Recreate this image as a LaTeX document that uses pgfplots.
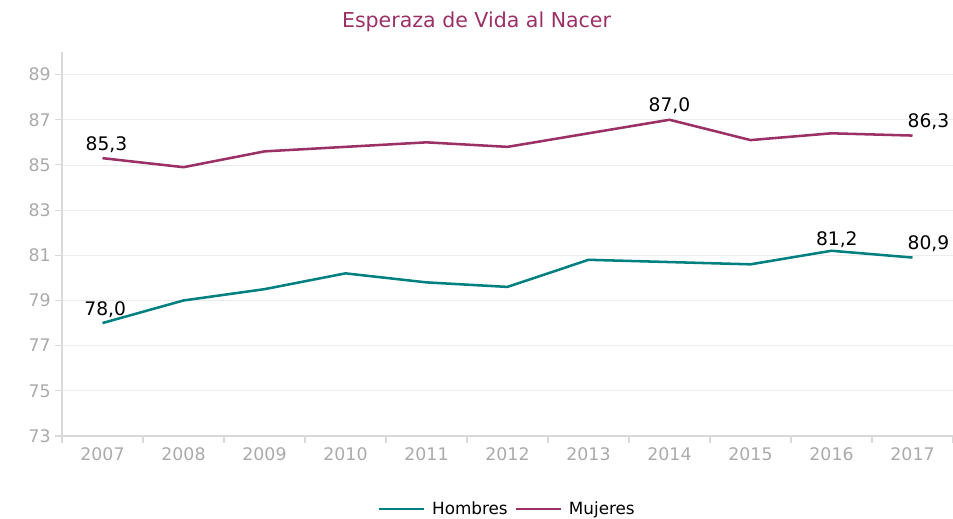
\documentclass[border=0pt]{standalone}
\usepackage{pgfplots}
\pgfplotsset{compat=1.18}
\usepackage{fontspec}
\setmainfont{DejaVu Sans}
\definecolor{hombres}{RGB}{0,128,128}
\definecolor{mujeres}{RGB}{155,48,103}
\definecolor{axisgray}{RGB}{217,217,217}
\definecolor{ticktext}{RGB}{170,170,170}
\definecolor{gridgray}{RGB}{236,236,236}

\begin{document}
\begin{tikzpicture}
\begin{axis}[name=ax, scale only axis, width=668.25pt, height=288pt,
  xmin=-0.5, xmax=10.5, ymin=73, ymax=90,
  axis x line*=bottom, axis y line*=left,
  axis line style={axisgray, line width=1pt, -},
  ytick={73,75,...,89},
  xtick={-0.5,0.5,...,10.5}, x tick label as interval,
  xticklabels={2007,2008,2009,2010,2011,2012,2013,2014,2015,2016,2017},
  tick align=outside, major tick length=5pt,
  tick style={axisgray, line width=0.8pt},
  ymajorgrids, grid style={gridgray, line width=0.6pt},
  tick label style={ticktext, font=\fontsize{13}{15}\selectfont},
  /pgf/number format/assume math mode=true,
  legend columns=2,
  legend style={draw=none, fill=none, at={(0.5,-0.19)}, anchor=center,
    font=\fontsize{12.6}{15}\selectfont, column sep=3pt},
  legend image code/.code={\draw[#1, line width=1.9pt] (0pt,0pt) -- (34pt,0pt);},
  clip=false]
  \addplot[hombres, line width=1.9pt] coordinates {(0,78.0) (1,79.0) (2,79.5) (3,80.2) (4,79.8) (5,79.6) (6,80.8) (7,80.7) (8,80.6) (9,81.2) (10,80.9)};
  \addlegendentry{Hombres}
  \addplot[mujeres, line width=1.9pt] coordinates {(0,85.3) (1,84.9) (2,85.6) (3,85.8) (4,86.0) (5,85.8) (6,86.4) (7,87.0) (8,86.1) (9,86.4) (10,86.3)};
  \addlegendentry{Mujeres}
  \begin{scope}[every node/.style={font=\fontsize{14}{16}\selectfont, anchor=south, inner sep=1pt}]
    \node[xshift=3pt, yshift=3pt] at (axis cs:0,85.3) {85,3};
    \node[xshift=2pt, yshift=3pt] at (axis cs:0,78.0) {78,0};
    \node[yshift=3pt] at (axis cs:7,87.0) {87,0};
    \node[xshift=12pt, yshift=3pt] at (axis cs:10,86.3) {86,3};
    \node[xshift=4pt, yshift=1pt] at (axis cs:9,81.2) {81,2};
    \node[xshift=12pt, yshift=3pt] at (axis cs:10,80.9) {80,9};
  \end{scope}
\end{axis}
\node[mujeres, font=\fontsize{15.4}{18}\selectfont] at ([shift={(310.9pt,22.5pt)}]ax.north west) {Esperaza de Vida al Nacer};
\pgfresetboundingbox
\path ([shift={(-46.5pt,-62.25pt)}]ax.south west) rectangle ([shift={(0pt,39pt)}]ax.north east);
\end{tikzpicture}
\end{document}
